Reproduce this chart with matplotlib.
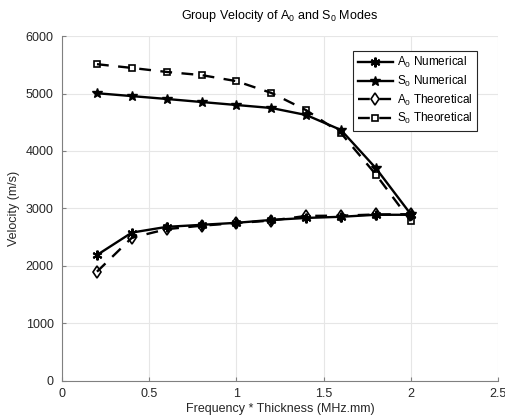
import matplotlib.pyplot as plt

plt.rcParams['font.family'] = ['Liberation Sans', 'DejaVu Sans']
plt.rcParams['mathtext.fontset'] = 'custom'
plt.rcParams['mathtext.rm'] = 'Liberation Sans'
plt.rcParams['mathtext.it'] = 'Liberation Sans'

freq_thickness = [0.2, 0.4, 0.6, 0.8, 1.0, 1.2, 1.4, 1.6, 1.8, 2.0]
a0_numerical = [2190, 2580, 2680, 2715, 2750, 2800, 2835, 2855, 2890, 2890]
s0_numerical = [5005, 4955, 4905, 4852, 4800, 4748, 4626, 4365, 3700, 2900]
a0_theoretical = [1900, 2490, 2640, 2700, 2745, 2790, 2870, 2875, 2895, 2900]
s0_theoretical = [5510, 5445, 5375, 5320, 5215, 5010, 4710, 4310, 3590, 2780]

# asterisk made of three crossing lines, like MATLAB's '*'
asterisk = (6, 2, 0)

fig = plt.figure(figsize=(5.05, 4.19), dpi=100)
ax = fig.add_axes([0.123, 0.091, 0.863, 0.823])

ax.plot(freq_thickness, a0_numerical, '-', color='k', lw=1.7,
        marker=asterisk, ms=7, mew=1.5, label='A$_0$ Numerical')
ax.plot(freq_thickness, s0_numerical, '-', color='k', lw=1.7,
        marker='*', ms=7, label='S$_0$ Numerical')
ax.plot(freq_thickness, a0_theoretical, '--', color='k', lw=1.7,
        marker='d', ms=6, mfc='none', mew=1.2, dashes=(5, 4),
        label='A$_0$ Theoretical')
ax.plot(freq_thickness, s0_theoretical, '--', color='k', lw=1.7,
        marker='s', ms=5, mfc='none', mew=1.2, dashes=(5, 4),
        label='S$_0$ Theoretical')

ax.set_xlim(0, 2.5)
ax.set_ylim(0, 6000)
ax.set_xticks([0, 0.5, 1, 1.5, 2, 2.5])
ax.set_xticklabels(['0', '0.5', '1', '1.5', '2', '2.5'])
ax.set_yticks(range(0, 6001, 1000))

ax.grid(True, color='#e6e6e6', lw=0.8)
ax.set_axisbelow(True)
for side in ('top', 'right'):
    ax.spines[side].set_visible(False)
for side in ('left', 'bottom'):
    ax.spines[side].set_color('#808080')
ax.tick_params(direction='in', length=3, color='#808080',
               labelsize=9, labelcolor='#262626')
ax.tick_params(axis='x', pad=5)
ax.tick_params(axis='y', pad=6)

ax.set_xlabel('Frequency * Thickness (MHz.mm)', fontsize=9, color='#262626',
              labelpad=2)
ax.set_ylabel('Velocity (m/s)', fontsize=9, color='#262626', labelpad=4)
ax.set_title('Group Velocity of A$_0$ and S$_0$ Modes', fontsize=9, pad=12)

leg = ax.legend(loc='upper right', bbox_to_anchor=(0.965, 0.975),
                fontsize=8.5, handlelength=3.0, handletextpad=0.3,
                labelspacing=0.3, borderpad=0.4, fancybox=False,
                framealpha=1)
leg.get_frame().set_edgecolor('#262626')
leg.get_frame().set_linewidth(0.8)

fig.savefig('out.png', dpi=100)
